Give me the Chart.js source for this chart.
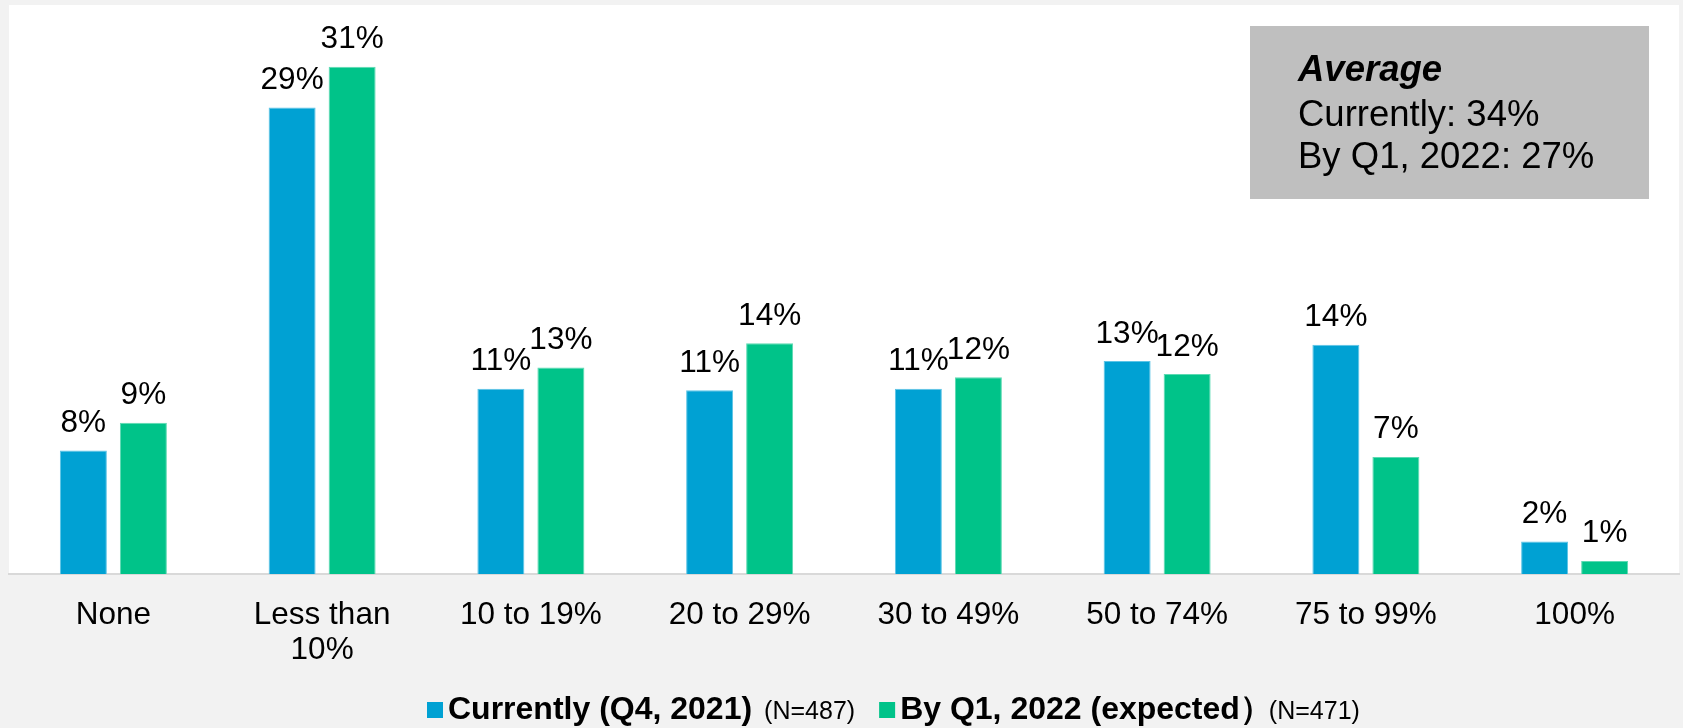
<!DOCTYPE html>
<html><head><meta charset="utf-8">
<script src="https://cdn.jsdelivr.net/npm/chart.js@4"></script>
<style>html,body{margin:0;padding:0;background:#f2f2f2;overflow:hidden}canvas{display:block}</style>
</head><body>
<canvas id="c" width="1683" height="728"></canvas>
<script>
const categories = ['None', ['Less than', '10%'], '10 to 19%', '20 to 29%', '30 to 49%', '50 to 74%', '75 to 99%', '100%'];
const currentValues = [7.6, 28.7, 11.4, 11.3, 11.4, 13.1, 14.1, 2.0];
const expectedValues = [9.3, 31.2, 12.7, 14.2, 12.1, 12.3, 7.2, 0.8];
const seriesNames = ['Currently (Q4, 2021)', 'By Q1, 2022 (expected\uFF09'];
const seriesNotes = ['(N=487)', '(N=471)'];
const seriesColors = ['#00a1d3', '#00c389'];
const seriesEdges = ['#5cc4e6', '#5cdab2'];
const averageTitle = 'Average';
const averageLines = ['Currently: 34%', 'By Q1, 2022: 27%'];
const yMax = 35;

const FONT = '"Liberation Sans", Arial, Helvetica, sans-serif';

const decor = {
  id: 'decor',
  beforeDraw(chart) {
    const {ctx, chartArea: a} = chart;
    ctx.save();
    ctx.fillStyle = '#f2f2f2';
    ctx.fillRect(0, 0, chart.width, chart.height);
    ctx.fillStyle = '#ffffff';
    ctx.fillRect(a.left, a.top, a.right - a.left, a.bottom - a.top);
    ctx.restore();
  },
  afterDatasetsDraw(chart) {
    const ctx = chart.ctx;
    ctx.save();
    // data labels
    ctx.font = '31.5px ' + FONT;
    ctx.fillStyle = '#000';
    ctx.textAlign = 'center';
    ctx.textBaseline = 'alphabetic';
    chart.data.datasets.forEach((ds, i) => {
      chart.getDatasetMeta(i).data.forEach((bar, j) => {
        ctx.fillText(Math.round(ds.data[j]) + '%', bar.x, bar.y - 18.5);
      });
    });
    // average box
    ctx.fillStyle = '#bfbfbf';
    ctx.fillRect(1250, 26, 399, 173);
    ctx.fillStyle = '#000';
    ctx.textAlign = 'left';
    ctx.font = 'italic bold 36.5px ' + FONT;
    ctx.fillText(averageTitle, 1298, 80.5);
    ctx.font = '36.5px ' + FONT;
    ctx.fillText(averageLines[0], 1298, 126);
    ctx.fillText(averageLines[1], 1298, 168);
    // legend
    let x = 427;
    const yb = 719;
    chart.data.datasets.forEach((ds, i) => {
      ctx.fillStyle = seriesColors[i];
      ctx.fillRect(x, 702, 16, 16);
      x += 21;
      ctx.fillStyle = '#000';
      ctx.font = 'bold 32px ' + FONT;
      ctx.fillText(seriesNames[i], x, yb);
      const trailingFullwidth = seriesNames[i].endsWith('\uFF09');
      x += ctx.measureText(seriesNames[i]).width + (trailingFullwidth ? -3 : 12);
      ctx.font = '25px ' + FONT;
      ctx.fillText(seriesNotes[i], x, yb);
      x += ctx.measureText(seriesNotes[i]).width + 24;
    });
    ctx.restore();
  }
};

new Chart(document.getElementById('c'), {
  type: 'bar',
  data: {
    labels: categories,
    datasets: [
      {label: seriesNames[0], data: currentValues, backgroundColor: seriesColors[0], borderColor: seriesEdges[0], borderWidth: 1,
       categoryPercentage: 0.575, barPercentage: 0.783},
      {label: seriesNames[1], data: expectedValues, backgroundColor: seriesColors[1], borderColor: seriesEdges[1], borderWidth: 1,
       categoryPercentage: 0.575, barPercentage: 0.783}
    ]
  },
  options: {
    responsive: false,
    animation: false,
    devicePixelRatio: 1,
    layout: {padding: {left: 9, right: 4, top: 5, bottom: 0}},
    plugins: {legend: {display: false}, tooltip: {enabled: false}},
    scales: {
      y: {display: false, min: 0, max: yMax},
      x: {
        grid: {display: false, drawTicks: false},
        border: {display: true, color: '#d9d9d9', width: 2},
        ticks: {color: '#000', font: {family: FONT, size: 31.5, lineHeight: 1.1}, padding: 24, maxRotation: 0, autoSkip: false},
        afterFit(s) { s.height = 154; }
      }
    }
  },
  plugins: [decor]
});
</script>
</body></html>
